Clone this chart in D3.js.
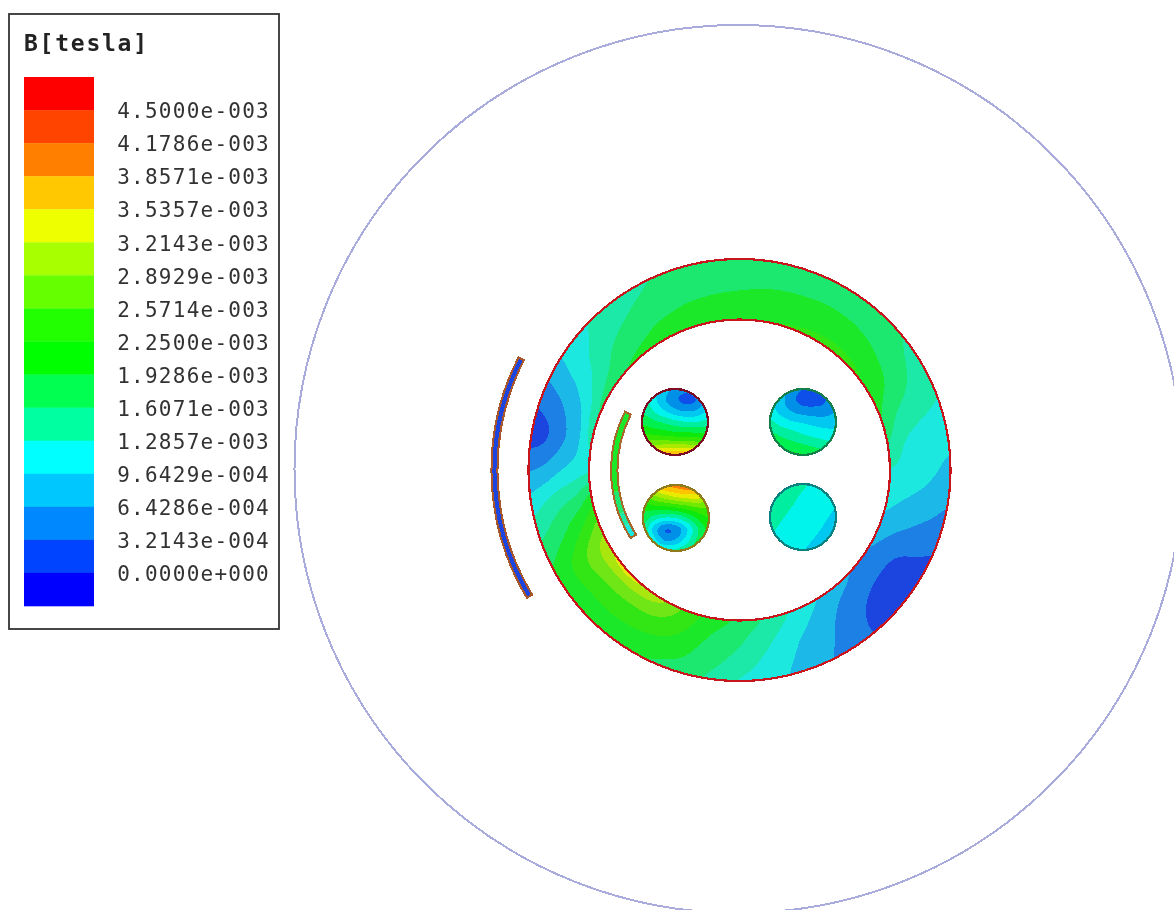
<!DOCTYPE html>
<html>
<head>
<meta charset="utf-8">
<script src="https://cdn.jsdelivr.net/npm/d3@7"></script>
<style>
html,body{margin:0;padding:0;background:#fff;}
svg{display:block;}
</style>
</head>
<body>
<svg id="chart" width="1174" height="910"></svg>
<script>
// ---------- legend ----------
const legendTitle = "B[tesla]";
const tickLabels = ["4.5000e-003","4.1786e-003","3.8571e-003","3.5357e-003","3.2143e-003","2.8929e-003","2.5714e-003","2.2500e-003","1.9286e-003","1.6071e-003","1.2857e-003","9.6429e-004","6.4286e-004","3.2143e-004","0.0000e+000"];
// thresholds in millitesla, low to high
const thresholds = [0,0.32143,0.64286,0.96429,1.2857,1.6071,1.9286,2.25,2.5714,2.8929,3.2143,3.5357,3.8571,4.1786,4.5];
// band colours low to high (one more than thresholds)
const legendColors = ["#0000ff","#0044ff","#0088ff","#00c8ff","#00ffff","#00ffa0","#00ff50","#00ff00","#22ff00","#66ff00","#a8ff00","#eeff00","#ffc800","#ff8000","#ff4400","#ff0000"];
const yokeColors = ["#1a1ae0","#1a45e0","#1a80e5","#1ab8e8","#1ae8e0","#1ae8a8","#1ae870","#1ae82c","#30e614","#70e614","#a8e610","#e8e810","#ffc810","#ff8010","#ff4410","#ff1010"];
const wireColors = ["#0000f0","#0a50e8","#0090e8","#00c8f0","#00f4ec","#00eea0","#00f050","#10e810","#30e800","#70ea00","#aaea00","#eaea00","#ffc400","#ff8000","#ff4400","#ff0000"];

// ---------- ring field (mT): rows are radii inner to outer, columns are angle 0..350 in 10 degree steps, clockwise from +x ----------
const ringRow150 = [1.27,1.08,0.88,0.66,0.60,0.78,0.98,1.25,1.55,1.85,2.10,2.45,2.93,3.22,3.32,3.10,2.60,2.00,1.25,1.35,1.61,1.75,1.90,2.02,2.10,2.15,2.20,2.22,2.24,2.28,2.32,2.33,2.28,2.10,1.93,1.60];
const ringRow165 = [1.18,0.98,0.72,0.47,0.43,0.57,0.83,1.10,1.40,1.70,1.95,2.33,2.63,2.72,2.75,2.78,2.28,1.68,1.10,0.88,1.03,1.38,1.65,1.82,1.95,2.00,2.03,2.05,2.06,2.10,2.15,2.15,2.08,1.95,1.63,1.32];
const ringRow180 = [1.10,0.88,0.60,0.30,0.28,0.41,0.70,0.95,1.26,1.58,1.82,2.17,2.37,2.44,2.47,2.47,2.00,1.52,0.93,0.58,0.74,1.10,1.47,1.66,1.78,1.87,1.90,1.92,1.95,1.97,2.00,1.98,1.90,1.76,1.47,1.19];
const ringRow195 = [0.99,0.78,0.49,0.25,0.22,0.33,0.62,0.87,1.13,1.44,1.72,2.00,2.13,2.20,2.20,2.20,1.78,1.33,0.72,0.30,0.55,0.97,1.29,1.50,1.65,1.76,1.80,1.82,1.84,1.84,1.83,1.80,1.72,1.58,1.36,1.13];
const ringRow211 = [0.88,0.66,0.40,0.24,0.20,0.31,0.56,0.82,1.05,1.27,1.61,1.82,1.98,2.10,2.05,2.00,1.62,1.15,0.62,0.20,0.42,0.88,1.20,1.40,1.55,1.67,1.75,1.78,1.78,1.76,1.72,1.67,1.62,1.45,1.29,1.08];

// ---------- round conductors (mT): 7x7 samples, rows top to bottom ----------
const wireTopLeft = [
 1.4,1.1,0.8,0.55,0.4,0.6,0.9,
 1.5,1.1,0.7,0.4,0.22,0.35,0.8,
 1.6,1.3,1.0,0.75,0.62,0.7,1.0,
 1.85,1.7,1.55,1.4,1.3,1.3,1.4,
 2.25,2.15,2.08,2.0,1.98,1.95,1.95,
 2.85,2.85,2.85,2.85,2.85,2.75,2.6,
 3.6,3.7,3.8,3.85,3.85,3.7,3.4];
const wireTopRight = [
 1.1,0.85,0.5,0.32,0.3,0.5,0.85,
 1.05,0.75,0.42,0.2,0.2,0.3,0.7,
 1.1,0.85,0.62,0.5,0.45,0.5,0.65,
 1.35,1.15,1.0,0.92,0.85,0.8,0.8,
 1.65,1.5,1.38,1.25,1.15,1.1,1.05,
 1.95,1.8,1.7,1.6,1.5,1.4,1.3,
 2.2,2.1,2.0,1.95,1.85,1.75,1.6];
const wireBottomLeft = [
 3.2,3.5,3.85,4.0,4.1,4.0,3.6,
 2.5,2.85,3.1,3.3,3.4,3.4,3.1,
 2.05,2.15,2.2,2.3,2.45,2.6,2.6,
 1.8,1.45,1.25,1.3,1.6,2.0,2.25,
 1.6,0.85,0.35,0.45,0.95,1.6,2.05,
 1.75,1.1,0.6,0.7,1.15,1.7,2.05,
 1.95,1.6,1.35,1.4,1.6,1.9,2.1];
const wireBottomRight = [
 1.55,1.47,1.40,1.32,1.24,1.16,1.08,
 1.50,1.42,1.34,1.26,1.19,1.11,1.03,
 1.44,1.36,1.29,1.21,1.13,1.05,0.97,
 1.39,1.31,1.23,1.15,1.07,0.99,0.92,
 1.33,1.25,1.17,1.10,1.02,0.94,0.86,
 1.27,1.19,1.12,1.04,0.96,0.88,0.81,
 1.22,1.14,1.06,0.98,0.90,0.83,0.75];

// ---------- curved shields: [start angle, end angle, field in mT] ----------
const outerShieldBands = [[149,207,0.3]];
const innerShieldBands = [[148,154,1.2],[154,160,1.5],[160,170,1.8],[170,207,2.05]];

// ---------- drawing ----------
const svg = d3.select("#chart");
const defs = svg.append("defs");
defs.append("filter").attr("id","soft").attr("x","-5%").attr("y","-5%").attr("width","110%").attr("height","110%")
  .append("feGaussianBlur").attr("stdDeviation",0.5);
defs.append("filter").attr("id","softText").attr("x","-5%").attr("y","-5%").attr("width","110%").attr("height","110%")
  .append("feGaussianBlur").attr("stdDeviation",0.3);

const cx = 739.5, cy = 470;
const toRad = d => d*Math.PI/180;
const plot = svg.append("g").attr("filter","url(#soft)");

// air box
plot.append("circle").attr("cx",738.5).attr("cy",469).attr("r",444)
  .attr("fill","none").attr("stroke","#a9abdc").attr("stroke-width",2).attr("shape-rendering","crispEdges");

// smooth contour rendering: a Catmull-Rom resample of the sampled field, only to round the contour lines
const cr = (a,b,c,d,t) => 0.5*((2*b)+(-a+c)*t+(2*a-5*b+4*c-d)*t*t+(-a+3*b-3*c+d)*t*t*t);
const refine = (values,nx,ny,f) => {
  const at = (i,j) => values[d3.max([0,d3.min([nx-1,i])])+nx*d3.max([0,d3.min([ny-1,j])])];
  const Nx = (nx-1)*f+1, Ny = (ny-1)*f+1, out = new Array(Nx*Ny);
  for (let J=0;J<Ny;J++) for (let I=0;I<Nx;I++){
    const i = Math.min(Math.floor(I/f),nx-2), s = I/f-i;
    const j = Math.min(Math.floor(J/f),ny-2), t = J/f-j;
    const row = k => cr(at(i-1,k),at(i,k),at(i+1,k),at(i+2,k),s);
    out[I+Nx*J] = cr(row(j-1),row(j),row(j+1),row(j+2),t);
  }
  return {values:out,Nx,Ny};
};

// contour helper: turns grid coordinates into page coordinates through a projection
const contourBands = (values,nx,ny,project,colors,parent) => {
  const gen = d3.contours().size([nx,ny]).thresholds(thresholds);
  const path = geo => geo.coordinates.map(poly => poly.map(ring =>
    "M"+ring.slice(0,-1).map(p=>{const q=project(p[0],p[1]);return q[0].toFixed(2)+","+q[1].toFixed(2);}).join("L")+"Z"
  ).join("")).join("");
  parent.selectAll("path.band").data(gen(values)).join("path").attr("class","band")
    .attr("d",path)
    .attr("fill",d => colors[thresholds.indexOf(d.value)+1])
    .attr("fill-rule","evenodd")
    .attr("shape-rendering","crispEdges");
};

// ring: wrapped in angle by padding columns each side before refining
const ringRows = [ringRow150,ringRow165,ringRow180,ringRow195,ringRow211];
const F = 6;
const N0 = ringRow150.length;
const pad = 2;
const ringPadded = ringRows.flatMap(row => row.slice(N0-pad).concat(row,row.slice(0,pad+1)));
const ringFine = refine(ringPadded,N0+2*pad+1,ringRows.length,F);
const radiusScale = d3.scaleLinear().domain([0.5,ringFine.Ny-0.5]).range([150.5,211]);
const ringArc = d3.arc().innerRadius(150.5).outerRadius(211).startAngle(0).endAngle(2*Math.PI);
defs.append("clipPath").attr("id","ringClip").append("path")
  .attr("transform",`translate(${cx},${cy})`).attr("d",ringArc());
const ringG = plot.append("g").attr("clip-path","url(#ringClip)");
ringG.append("rect").attr("x",cx-215).attr("y",cy-215).attr("width",430).attr("height",430).attr("fill",yokeColors[1]);
const ringTurn = (() => {
  const s = pad*F, Nx = N0*F+1, out = [];
  for (let j=0;j<ringFine.Ny;j++) for (let i=0;i<Nx;i++) out.push(ringFine.values[(s+i)+ringFine.Nx*j]);
  return {values:out,Nx,Ny:ringFine.Ny};
})();
const thetaTurn = d3.scaleLinear().domain([0.5,ringTurn.Nx-0.5]).range([0,360]).clamp(true);
contourBands(ringTurn.values,ringTurn.Nx,ringTurn.Ny,(x,y)=>{
  const t = toRad(thetaTurn(x)), r = radiusScale(y);
  return [cx+r*Math.cos(t), cy+r*Math.sin(t)];
},yokeColors,ringG);
plot.selectAll("circle.ringEdge").data([150.5,211]).join("circle").attr("class","ringEdge")
  .attr("cx",cx).attr("cy",cy).attr("r",d=>d)
  .attr("fill","none").attr("stroke","#c8161e").attr("stroke-width",2.2).attr("shape-rendering","crispEdges");

// round conductors
const wires = [
  {id:"w1",x:675,y:422,r:33,values:wireTopLeft,edge:"#7c0f22"},
  {id:"w2",x:803,y:422,r:33,values:wireTopRight,edge:"#17804e"},
  {id:"w3",x:676,y:518,r:33,values:wireBottomLeft,edge:"#8f7a1e"},
  {id:"w4",x:803,y:517,r:33,values:wireBottomRight,edge:"#0f8080"}
];
wires.forEach(w => {
  const fine = refine(w.values,7,7,F);
  const sx = d3.scaleLinear().domain([0.5,fine.Nx-0.5]).range([w.x-w.r,w.x+w.r]);
  const sy = d3.scaleLinear().domain([0.5,fine.Ny-0.5]).range([w.y-w.r,w.y+w.r]);
  defs.append("clipPath").attr("id",w.id).append("circle").attr("cx",w.x).attr("cy",w.y).attr("r",w.r);
  const g = plot.append("g").attr("clip-path",`url(#${w.id})`);
  contourBands(fine.values,fine.Nx,fine.Ny,(x,y)=>[sx(x),sy(y)],wireColors,g);
  plot.append("circle").attr("cx",w.x).attr("cy",w.y).attr("r",w.r)
    .attr("fill","none").attr("stroke",w.edge).attr("stroke-width",2.2).attr("shape-rendering","crispEdges");
});

// curved shields
const bandColor = v => yokeColors[d3.bisect(thresholds,v)];
const drawShield = (bands,r0,r1,edge) => {
  const arc = d3.arc().innerRadius(r0).outerRadius(r1);
  const g = plot.append("g").attr("transform",`translate(${cx},${cy})`);
  g.selectAll("path.seg").data(bands).join("path").attr("class","seg")
    .attr("d",d=>arc({startAngle:toRad(d[0]+90),endAngle:toRad(d[1]+90)}))
    .attr("fill",d=>bandColor(d[2]));
  g.append("path").attr("d",arc({startAngle:toRad(d3.min(bands,d=>d[0])+90),endAngle:toRad(d3.max(bands,d=>d[1])+90)}))
    .attr("fill","none").attr("stroke",edge).attr("stroke-width",2).attr("shape-rendering","crispEdges");
};
drawShield(outerShieldBands,242,248,"#a8562a");
drawShield(innerShieldBands,122,128.5,"#a8682a");

// legend
const legend = svg.append("g");
legend.append("rect").attr("x",9).attr("y",14).attr("width",270).attr("height",615)
  .attr("fill","#fff").attr("stroke","#333").attr("stroke-width",1.8);
legend.append("text").text(legendTitle).attr("x",24).attr("y",51)
  .attr("font-family","'DejaVu Sans Mono',monospace").attr("font-weight","bold")
  .attr("font-size",23).attr("letter-spacing",1.75).attr("fill","#222").attr("filter","url(#softText)");
const bandScale = d3.scaleBand().domain(d3.range(legendColors.length)).range([77,606]);
const swatches = legendColors.slice().reverse();
legend.selectAll("rect.sw").data(swatches).join("rect").attr("class","sw")
  .attr("x",24).attr("width",70).attr("y",(d,i)=>bandScale(i)).attr("height",bandScale.bandwidth()+0.3)
  .attr("fill",d=>d);
legend.selectAll("text.tick").data(tickLabels).join("text").attr("class","tick")
  .text(d=>d).attr("x",270).attr("y",(d,i)=>bandScale(i+1)+8.2)
  .attr("text-anchor","end")
  .attr("font-family","'DejaVu Sans Mono',monospace")
  .attr("font-size",21).attr("letter-spacing",1.25).attr("fill","#333").attr("filter","url(#softText)");
</script>
</body>
</html>
